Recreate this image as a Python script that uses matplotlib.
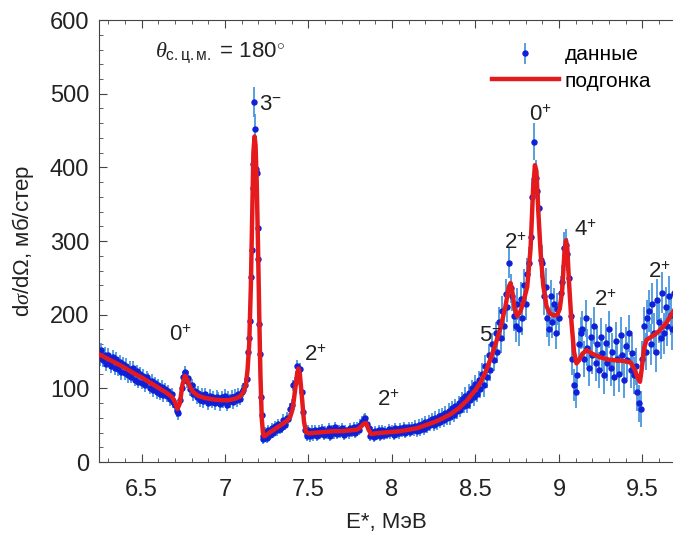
import numpy as np
import matplotlib
matplotlib.use('Agg')
from matplotlib import pyplot as plt

plt.rcParams['font.family'] = ['Liberation Sans', 'DejaVu Sans']
plt.rcParams['mathtext.fontset'] = 'custom'
plt.rcParams['mathtext.rm'] = 'Liberation Sans'
plt.rcParams['mathtext.it'] = 'Liberation Serif:italic'

# data, channel grid 6.24..7.13 step 0.01
y1 = [150, 141, 152, 139, 146, 133, 145, 137, 131, 142,
      128, 140, 127, 136, 122, 133, 121, 131, 118, 127,
      116, 128, 112, 123, 109, 120, 108, 117, 104, 115,
      112, 101, 110, 98, 107, 95, 104, 93, 102, 91,
      99, 90, 96, 85, 92, 82, 78, 70, 66, 84,
      101, 115, 122, 110, 114, 99, 104, 92, 97, 88,
      94, 84, 91, 83, 92, 86, 80, 90, 82, 88,
      80, 89, 86, 79, 88, 82, 90, 78, 87, 83,
      89, 81, 90, 84, 92, 86, 95, 98, 104, 113]
err1 = [10, 10, 9, 9, 9, 9, 9, 9, 9]

# 3- peak, grid 7.14..7.235 step 0.005
y2 = [150, 168, 192, 251, 288, 372, 405, 489, 452, 398,
      392, 318, 276, 188, 147, 88, 64, 36, 31, 40]
err2 = [10, 11, 12, 13, 15, 17, 19, 20, 20, 19,
        18, 17, 15, 13, 11, 10, 8, 7, 7, 7]

# grid 7.24..9.69 step 0.01
y3 = [41, 33, 44, 37, 46, 40, 49, 43, 52, 45,
      47, 57, 51, 60, 58, 72, 77, 104, 108, 130,
      122, 126, 95, 68, 44, 36, 43, 35, 42, 37,
      44, 36, 43, 38, 45, 37, 42, 39, 46, 36,
      44, 39, 47, 38, 43, 40, 46, 37, 44, 41,
      39, 46, 41, 48, 40, 47, 44, 51, 55, 58,
      60, 52, 46, 35, 41, 34, 42, 37, 43, 36,
      44, 37, 42, 38, 45, 39, 43, 37, 46, 40,
      39, 46, 41, 47, 40, 45, 48, 41, 47, 43,
      49, 42, 50, 44, 52, 45, 54, 48, 56, 50,
      58, 51, 60, 53, 63, 55, 64, 57, 67, 60,
      70, 61, 73, 64, 76, 69, 80, 71, 85, 76,
      90, 78, 94, 84, 100, 88, 106, 93, 112, 99,
      120, 104, 131, 115, 145, 125, 160, 138, 175, 150,
      190, 168, 205, 185, 228, 210, 270, 236, 225, 198,
      185, 215, 180, 222, 195, 240, 215, 255, 270, 305,
      360, 435, 385, 368, 345, 275, 270, 225, 238, 195,
      180, 225, 190, 215, 175, 208, 195, 230, 245, 290,
      295, 282, 250, 198, 140, 105, 95, 118, 160, 175,
      180, 140, 195, 155, 128, 170, 145, 185, 135, 160,
      125, 170, 148, 118, 162, 135, 180, 128, 150, 115,
      165, 140, 120, 172, 145, 112, 158, 138, 175, 125,
      148, 118, 130, 95, 80, 72, 140, 185, 150, 195,
      205, 160, 215, 175, 150, 220, 190, 168, 230, 175,
      210, 185, 225, 200, 180, 230]
err3 = [7, 8, 8, 7, 7, 7, 7, 7, 7, 8, 9, 10, 12,
        15, 20, 22, 25, 22, 22, 25, 25, 25, 25, 28, 28]

# fit curve
fit_e = [6.24, 6.30, 6.35, 6.40, 6.45, 6.50, 6.55, 6.60, 6.65, 6.68, 6.70, 6.715,
         6.73, 6.745, 6.76, 6.775, 6.79, 6.81, 6.84, 6.88, 6.93, 6.98, 7.02, 7.06,
         7.09, 7.11, 7.125, 7.135, 7.145, 7.155, 7.163, 7.17, 7.177, 7.183, 7.19,
         7.198, 7.205, 7.212, 7.22, 7.228, 7.235, 7.26, 7.30, 7.34, 7.37, 7.39,
         7.405, 7.42, 7.432, 7.44, 7.448, 7.46, 7.473, 7.485, 7.50, 7.55, 7.60,
         7.65, 7.70, 7.75, 7.79, 7.81, 7.83, 7.845, 7.86, 7.875, 7.90, 7.95, 8.00,
         8.05, 8.10, 8.15, 8.20, 8.25, 8.30, 8.35, 8.40, 8.45, 8.50, 8.53, 8.56,
         8.59, 8.62, 8.65, 8.68, 8.70, 8.71, 8.72, 8.735, 8.75, 8.77, 8.79, 8.81,
         8.83, 8.845, 8.856, 8.865, 8.876, 8.89, 8.906, 8.925, 8.945, 8.97, 8.99,
         9.005, 9.02, 9.033, 9.042, 9.05, 9.06, 9.075, 9.09, 9.105, 9.12, 9.14,
         9.166, 9.20, 9.25, 9.30, 9.35, 9.40, 9.43, 9.455, 9.47, 9.485, 9.495,
         9.51, 9.525, 9.56, 9.60, 9.64, 9.69]
fit_v = [147, 140, 134, 128, 121, 115, 108, 101, 94, 89, 82, 72,
         80, 105, 117, 111, 102, 95, 90, 87, 85, 84, 84, 86,
         89, 95, 105, 125, 160, 240, 340, 420, 442, 430, 380,
         290, 200, 120, 60, 38, 35, 39, 45, 51, 56, 61,
         72, 98, 120, 127, 120, 90, 55, 41, 39, 40, 41,
         42, 42, 43, 44, 47, 52, 53, 44, 38, 39, 40, 41,
         42, 44, 46, 50, 54, 59, 65, 73, 84, 98, 108, 122,
         140, 160, 182, 212, 238, 243, 232, 208, 198, 205, 220, 238,
         290, 370, 403, 395, 342, 285, 240, 212, 202, 199, 200,
         208, 235, 285, 301, 290, 245, 190, 150, 134, 138, 147,
         152, 147, 142, 139, 138, 137, 135, 125, 115, 109, 125,
         155, 166, 171, 178, 188, 206]

labels = ['0$^{+}$', '3$^{-}$', '2$^{+}$', '2$^{+}$', '5$^{-}$',
          '2$^{+}$', '0$^{+}$', '4$^{+}$', '2$^{+}$', '2$^{+}$']
label_e = [6.73, 7.27, 7.54, 7.98, 8.59, 8.74, 8.89, 9.16, 9.28, 9.60]
label_v = [172, 485, 145, 84, 172, 297, 471, 315, 220, 258]

e1 = 6.24 + 0.01 * np.arange(len(y1))
e2 = 7.14 + 0.005 * np.arange(len(y2))
e3 = 7.24 + 0.01 * np.arange(len(y3))
E = np.concatenate([e1, e2, e3])
Y = np.concatenate([y1, y2, y3])
ERR = np.concatenate([np.repeat(err1, 10)[:len(y1)], err2,
                      np.repeat(err3, 10)[:len(y3)]])

fig = plt.figure(figsize=(6.73, 5.43), dpi=100)
ax = fig.add_axes([0.147, 0.149, 0.853, 0.814])

dat = ax.errorbar(E, Y, yerr=ERR, fmt='o', ms=3.6, color='#1020d8', mec='#1020d8',
                  ecolor='#4a96dc', elinewidth=1.3, capsize=0, zorder=2)
fit, = ax.plot(fit_e, fit_v, color='#e41a1c', lw=3.2, zorder=3)

for t, x, y in zip(labels, label_e, label_v):
    ax.text(x, y, t, fontsize=16, ha='center', va='center', color='#222222')

ax.text(6.58, 556, r'$\theta_{\rm с.ц.м.}$ = 180$^{\circ}$', fontsize=16,
        va='center', color='#222222')

ax.set_xlim(6.245, 9.683)
ax.set_ylim(0, 600)
ax.set_xticks([6.5, 7, 7.5, 8, 8.5, 9, 9.5])
ax.set_xticklabels(['6.5', '7', '7.5', '8', '8.5', '9', '9.5'])
ax.set_xticks(np.arange(6.3, 9.7, 0.1), minor=True)
ax.set_yticks(np.arange(0, 601, 100))
ax.set_yticks(np.arange(0, 601, 20), minor=True)
ax.tick_params(which='both', direction='in', top=True, right=False,
               labelsize=17, colors='#444444', labelcolor='#222222')
ax.tick_params(axis='x', which='major', pad=12)
ax.tick_params(axis='y', which='major', pad=7)
ax.tick_params(which='major', length=6)
ax.tick_params(which='minor', length=3)
ax.spines['right'].set_visible(False)
for s in ['left', 'top', 'bottom']:
    ax.spines[s].set_color('#444444')

ax.set_xlabel('E*, МэВ', fontsize=16, color='#222222', labelpad=8)
ax.set_ylabel(r'd$\sigma$/d$\Omega$, мб/стер', fontsize=16, color='#222222', labelpad=10)

ax.legend([dat, fit], ['данные', 'подгонка'], loc='upper right',
          bbox_to_anchor=(0.995, 0.985), frameon=False,
          fontsize=15, handlelength=3.2, handletextpad=0.3, labelspacing=0.35)

plt.savefig('out.png', dpi=100)
